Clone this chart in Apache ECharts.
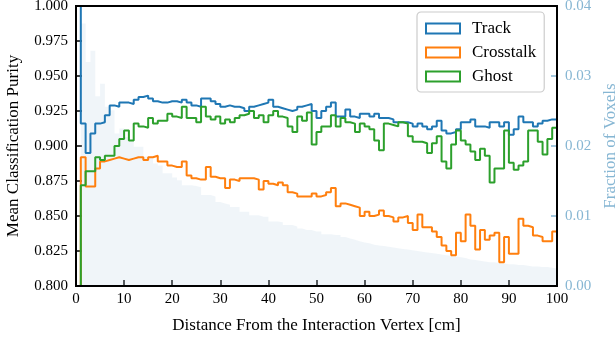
<!DOCTYPE html>
<html><head><meta charset="utf-8">
<script src="https://cdn.jsdelivr.net/npm/echarts@6/dist/echarts.min.js"></script>
<style>html,body{margin:0;padding:0;background:#fff}#c{width:616px;height:341px}</style>
</head><body><div id="c"></div>
<script>
const binEdges = Array.from({length: 101}, (_, i) => i); // 1 cm bins, 0..100
const xTicks = [0,10,20,30,40,50,60,70,80,90,100];
const trackPurity = [1.000,0.916,0.895,0.909,0.916,0.917,0.922,0.929,0.928,0.931,
0.931,0.930,0.933,0.935,0.936,0.934,0.932,0.931,0.931,0.932,
0.932,0.931,0.933,0.931,0.929,0.928,0.934,0.934,0.932,0.930,
0.928,0.929,0.928,0.928,0.927,0.925,0.928,0.929,0.930,0.931,
0.933,0.928,0.927,0.926,0.925,0.926,0.928,0.929,0.930,0.925,
0.920,0.925,0.928,0.931,0.921,0.921,0.926,0.921,0.920,0.923,
0.923,0.921,0.923,0.920,0.920,0.919,0.917,0.917,0.917,0.916,
0.914,0.916,0.914,0.912,0.914,0.918,0.911,0.909,0.910,0.912,
0.917,0.917,0.919,0.914,0.914,0.913,0.917,0.917,0.914,0.917,
0.908,0.912,0.921,0.917,0.917,0.914,0.916,0.918,0.919,0.919];
const crosstalkPurity = [0,0.892,0.871,0.871,0.884,0.889,0.890,0.891,0.892,0.891,
0.890,0.891,0.892,0.892,0.890,0.892,0.893,0.889,0.889,0.886,
0.885,0.885,0.889,0.879,0.877,0.876,0.876,0.885,0.878,0.877,
0.877,0.870,0.876,0.875,0.877,0.877,0.877,0.876,0.869,0.875,
0.873,0.872,0.874,0.872,0.867,0.866,0.864,0.864,0.864,0.866,
0.864,0.865,0.867,0.870,0.857,0.859,0.858,0.857,0.856,0.850,
0.853,0.850,0.851,0.854,0.850,0.849,0.846,0.849,0.850,0.845,
0.840,0.851,0.842,0.842,0.839,0.835,0.829,0.825,0.822,0.838,
0.832,0.851,0.843,0.826,0.840,0.833,0.836,0.838,0.817,0.835,
0.823,0.823,0.848,0.843,0.842,0.836,0.835,0.832,0.832,0.839];
const ghostPurity = [0,0.872,0.882,0.882,0.892,0.890,0.893,0.893,0.900,0.905,
0.911,0.904,0.916,0.914,0.913,0.920,0.916,0.918,0.918,0.923,
0.921,0.920,0.928,0.920,0.920,0.917,0.928,0.921,0.919,0.921,
0.916,0.919,0.917,0.920,0.922,0.923,0.925,0.920,0.922,0.917,
0.922,0.925,0.921,0.920,0.914,0.910,0.921,0.918,0.924,0.901,
0.910,0.914,0.914,0.922,0.914,0.920,0.917,0.916,0.910,0.916,
0.914,0.912,0.904,0.897,0.916,0.915,0.914,0.917,0.916,0.907,
0.903,0.903,0.902,0.895,0.902,0.907,0.889,0.884,0.901,0.911,
0.904,0.901,0.896,0.890,0.898,0.893,0.874,0.884,0.884,0.911,
0.888,0.883,0.886,0.889,0.911,0.911,0.903,0.894,0.905,0.913];
const voxelFraction = [0,0.0375,0.0320,0.0336,0.0271,0.0289,0.0256,0.0251,0.0218,0.0225,
0.0213,0.0209,0.0199,0.0199,0.0185,0.0185,0.0175,0.0172,0.0161,0.0161,
0.0155,0.0151,0.0144,0.0144,0.0143,0.0141,0.0130,0.0130,0.0128,0.0120,
0.0118,0.0116,0.0113,0.0113,0.0106,0.0106,0.0101,0.0101,0.0099,0.0099,
0.0092,0.0092,0.0091,0.0087,0.0087,0.0085,0.0082,0.0080,0.0080,0.0078,
0.0078,0.0074,0.0074,0.0073,0.0073,0.0070,0.0068,0.0066,0.0064,0.0062,
0.0061,0.0059,0.0058,0.0057,0.0056,0.0055,0.0054,0.0053,0.0052,0.0051,
0.0050,0.0049,0.0048,0.0047,0.0046,0.0045,0.0044,0.0043,0.0042,0.0041,
0.0040,0.0038,0.0037,0.0036,0.0035,0.0034,0.0034,0.0033,0.0032,0.0031,
0.0031,0.0030,0.0030,0.0029,0.0028,0.0028,0.0027,0.0027,0.0026,0.0025];
const leftTicks = [0.800,0.825,0.850,0.875,0.900,0.925,0.950,0.975,1.000];
const rightTicks = [0.00,0.01,0.02,0.03,0.04];
const seriesNames = ['Track','Crosstalk','Ghost'];
const seriesColors = ['#1f77b4','#ff7f0e','#2ca02c'];

function stepData(vals){
  const d = vals.map((v,i)=>[binEdges[i], v]);
  d.push([binEdges[vals.length], vals[vals.length-1]]);
  return d;
}
const FONT = '"Liberation Serif","DejaVu Serif",serif';
const RC = '#86b6d3';
const chart = echarts.init(document.getElementById('c'), null, {renderer:'canvas'});
const purity = [trackPurity, crosstalkPurity, ghostPurity];
chart.setOption({
  animation:false,
  textStyle:{fontFamily:FONT},
  grid:{left:76,right:59,top:6,bottom:55,containLabel:false,outerBoundsMode:'none',
        show:true,borderColor:'#000',borderWidth:2,backgroundColor:'transparent',z:10},
  legend:{
    data:seriesNames.map(n=>({name:n})),
    orient:'vertical', left:417, top:12,
    icon:'rect', itemWidth:34, itemHeight:10, itemGap:7,
    backgroundColor:'#fff', borderColor:'#cccccc', borderWidth:1.2, borderRadius:4,
    padding:[8,8,7,8],
    itemStyle:{color:'transparent', borderWidth:2},
    textStyle:{fontFamily:FONT, fontSize:17, color:'#000', padding:[0,0,0,7]},
    z:20
  },
  xAxis:{
    type:'value', min:0, max:100, interval:10,
    name:'Distance From the Interaction Vertex [cm]', nameLocation:'middle', nameGap:31,
    nameTextStyle:{fontFamily:FONT,fontSize:17,color:'#000'},
    axisLine:{show:true,lineStyle:{color:'#000',width:2}},
    axisTick:{inside:true,length:6,lineStyle:{color:'#000',width:1.5}},
    axisLabel:{fontFamily:FONT,fontSize:15,color:'#000',margin:6,formatter:v=>xTicks.includes(v)?String(v):''},
    splitLine:{show:false}
  },
  yAxis:[{
    type:'value', min:0.8, max:1.0, interval:0.025,
    name:'Mean Classification Purity', nameLocation:'middle', nameGap:54, nameRotate:90,
    nameTextStyle:{fontFamily:FONT,fontSize:17,color:'#000'},
    axisLine:{show:true,lineStyle:{color:'#000',width:2}},
    axisTick:{inside:true,length:6,lineStyle:{color:'#000',width:1.5}},
    axisLabel:{fontFamily:FONT,fontSize:15,color:'#000',margin:8,formatter:v=>v.toFixed(3)},
    splitLine:{show:false}
  },{
    type:'value', min:0, max:0.04, interval:0.01, position:'right',
    name:'Fraction of Voxels', nameLocation:'middle', nameGap:45, nameRotate:90,
    nameTextStyle:{fontFamily:FONT,fontSize:17,color:RC},
    axisLine:{show:true,lineStyle:{color:'#000',width:2}},
    axisTick:{inside:true,length:6,lineStyle:{color:RC,width:1.5}},
    axisLabel:{fontFamily:FONT,fontSize:15,color:RC,margin:8,formatter:v=>v.toFixed(2)},
    splitLine:{show:false}
  }],
  series:[{
    name:'Voxels', type:'line', yAxisIndex:1, step:'end', symbol:'none', silent:true,
    data:stepData(voxelFraction),
    lineStyle:{width:0}, areaStyle:{color:'rgba(176,206,222,0.28)',origin:'start'}, z:1
  }].concat(seriesNames.map((n,k)=>({
    name:n, type:'line', step:'end', symbol:'none', clip:true,
    data:stepData(purity[k]),
    color:seriesColors[k],
    lineStyle:{color:seriesColors[k],width:2},
    itemStyle:{color:seriesColors[k],borderColor:seriesColors[k]},
    z:3
  })))
});
</script></body></html>
